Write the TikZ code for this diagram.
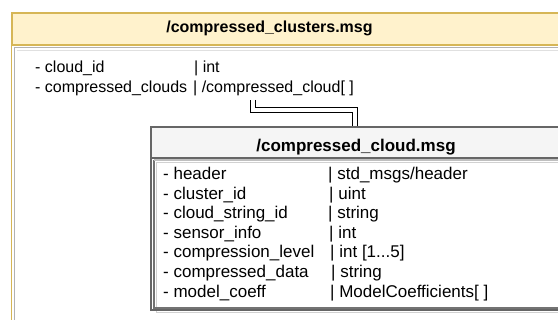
\documentclass[tikz,border=0pt]{standalone}
\usepackage{fontspec}
\setmainfont{Liberation Sans}
\usepackage{tikz}
\usetikzlibrary{positioning,calc}
\definecolor{ylwfill}{HTML}{FFF2CC}
\definecolor{ylwline}{HTML}{D6B656}
\definecolor{gryfill}{HTML}{F5F5F5}
\definecolor{gryline}{HTML}{666666}
\tikzset{fld/.style={anchor=base west,inner sep=0pt},
  ttl/.style={anchor=base,inner sep=0pt,font=\bfseries},
  hdr/.style={rectangle,draw,anchor=north west,inner sep=0pt,line width=1.3pt}}

\begin{document}
\begin{tikzpicture}[x=1pt,y=-1pt]
    \useasboundingbox (0,0) rectangle (558,320);
    \clip (0,0) rectangle (558,320);

    % outer message
    \draw[ylwline,line width=1.3pt] (11.5,12.5) rectangle (575,340);
    \node[hdr,draw=ylwline,fill=ylwfill,minimum width=563pt,minimum height=32pt] (ohdr) at (11.5,12.5) {};
    \draw[black!30,line width=1.5pt] (14.5,47.5) rectangle (575,340);
    \draw[black!12] (16.5,50.5) -- (575,50.5);
    \node[ttl,font=\fontsize{16}{20}\selectfont\bfseries] (otitle) at (269.5,33) {/compressed\_clusters.msg};

    \begin{scope}[every node/.style={fld,font=\fontsize{16}{20}\selectfont}]
    \node (o1) at (35,73) {- cloud\_id};
    \node (o1t) at (194,73) {| int};
    \node (o2) at (35,93) {- compressed\_clouds};
    \node (o2t) at (193,93) {| /compressed\_cloud[ ]};
    \end{scope}

    % inner message
    \draw[black!18,line width=1.2pt] (156.5,162.5) rectangle (575,312.5);
    \draw[gryline,line width=1.3pt] (151,126.5) rectangle (575,310);
    \draw[black!55,line width=1.3pt] (154,160) -- (154,308) -- (575,308);
    \draw[black!25,line width=1.3pt] (154,160) -- (575,160);
    \node[hdr,draw=gryline,fill=gryfill,minimum width=414pt,minimum height=31pt] (ihdr) at (151,126.5) {};
    \node[ttl,font=\fontsize{17}{20}\selectfont\bfseries] (ititle) at (356,152) {/compressed\_cloud.msg};

    \begin{scope}[every node/.style={fld,font=\fontsize{17}{20}\selectfont}]
    \node (i1) at (163,180) {- header};
    \node (i1t) at (328,180) {| std\_msgs/header};
    \node (i2) at (163,199.5) {- cluster\_id};
    \node (i2t) at (329,199.5) {| uint};
    \node (i3) at (163,219) {- cloud\_string\_id};
    \node (i3t) at (328,219) {| string};
    \node (i4) at (163,238.5) {- sensor\_info};
    \node (i4t) at (329,238.5) {| int};
    \node (i5) at (163,258) {- compression\_level};
    \node (i5t) at (330,258) {| int [1...5]};
    \node (i6) at (163,278) {- compressed\_data};
    \node (i6t) at (331,278) {| string};
    \node (i7) at (163,297.5) {- model\_coeff};
    \node (i7t) at (330,297.5) {| ModelCoefficients[ ]};
    \end{scope}

    % link
    \coordinate (lnk) at (253,100);
    \coordinate (lnkend) at ($(ihdr.north west)+(203.5,0)$);
    \draw[double,double distance=4pt,line width=1pt] (lnk) -- ++(0,10) -| (lnkend);
\end{tikzpicture}
\end{document}
